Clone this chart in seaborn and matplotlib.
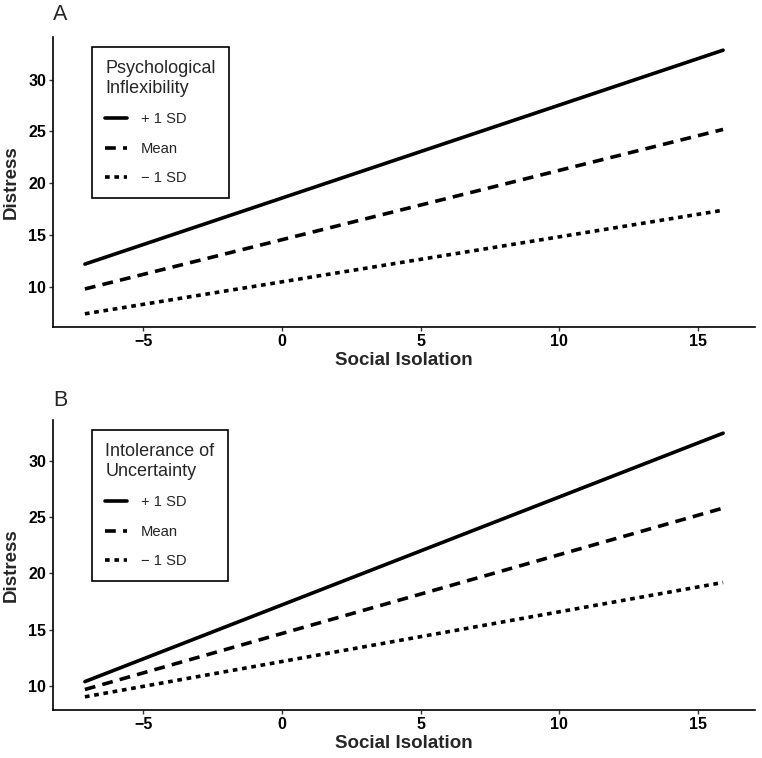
import matplotlib
matplotlib.use('Agg')
import matplotlib.pyplot as plt
import numpy as np
import pandas as pd
import seaborn as sns

# data: simple slopes, values at the ends of the social isolation range
x_vals = [-7.1, 15.9]
levels = ['+ 1 SD', 'Mean', '\u2212 1 SD']
# panel A: psychological inflexibility
a_start = [12.2, 9.8, 7.4]
a_end = [32.85, 25.2, 17.4]
# panel B: intolerance of uncertainty
b_start = [10.4, 9.7, 9.05]
b_end = [32.45, 25.8, 19.2]

panels = [
    ('A', 'Psychological\nInflexibility', a_start, a_end),
    ('B', 'Intolerance of\nUncertainty', b_start, b_end),
]

def make_df(start, end):
    rows = []
    for lev, s, e in zip(levels, start, end):
        rows.append({'iso': x_vals[0], 'distress': s, 'level': lev})
        rows.append({'iso': x_vals[1], 'distress': e, 'level': lev})
    return pd.DataFrame(rows)

sns.set_style('white')
plt.rcParams['font.family'] = ['Liberation Sans', 'DejaVu Sans']

fig = plt.figure(figsize=(7.62, 7.58), dpi=100)
W, H = 762, 758
boxes = [(53, 37, 755, 327), (53, 420, 755, 710)]
letter_y = [15, 400]

dash_map = {levels[0]: '', levels[1]: (3.0, 2.0), levels[2]: (1.3, 1.3)}

for (letter, title, start, end), (l, t, r, b), ly in zip(panels, boxes, letter_y):
    ax = fig.add_axes([l / W, 1 - b / H, (r - l) / W, (b - t) / H])
    df = make_df(start, end)
    sns.lineplot(data=df, x='iso', y='distress', style='level', style_order=levels,
                 dashes=dash_map, color='black', lw=2.6, ax=ax)
    ax.set_xlim(-8.25, 17.05)
    ys = start + end
    pad = (max(ys) - min(ys)) * 0.05
    ax.set_ylim(min(ys) - pad, max(ys) + pad)
    ax.set_xticks([-5, 0, 5, 10, 15])
    ax.set_xticklabels(['\u22125', '0', '5', '10', '15'])
    ax.set_yticks([10, 15, 20, 25, 30])
    for sp in ['top', 'right']:
        ax.spines[sp].set_visible(False)
    for sp in ['left', 'bottom']:
        ax.spines[sp].set_color('black')
        ax.spines[sp].set_linewidth(1.2)
    ax.tick_params(axis='both', direction='out', length=3, width=1, color='#333333',
                   labelsize=11.5, pad=2, left=True, bottom=True)
    for lab in ax.get_xticklabels() + ax.get_yticklabels():
        lab.set_fontweight('bold')
        lab.set_color('black')
    ax.set_xlabel('Social Isolation', fontsize=13.5, fontweight='bold', labelpad=2)
    ax.set_ylabel('Distress', fontsize=13.5, fontweight='bold', labelpad=6)
    handles, labels = ax.get_legend_handles_labels()
    leg = ax.legend(handles, labels, title=title, loc='upper left',
                    bbox_to_anchor=((92 - l) / (r - l), (b - 47 - (t - 37)) / (b - t)),
                    borderaxespad=0, fontsize=10.6, title_fontsize=13,
                    frameon=True, fancybox=False, edgecolor='black', framealpha=1,
                    handlelength=1.5, handletextpad=0.9, labelspacing=1.05,
                    borderpad=0.9, alignment='left')
    leg.get_frame().set_linewidth(1.2)
    fig.text(53 / W, 1 - ly / H, letter, fontsize=15.5, va='center', ha='left')

fig.savefig('out.png', dpi=100)
